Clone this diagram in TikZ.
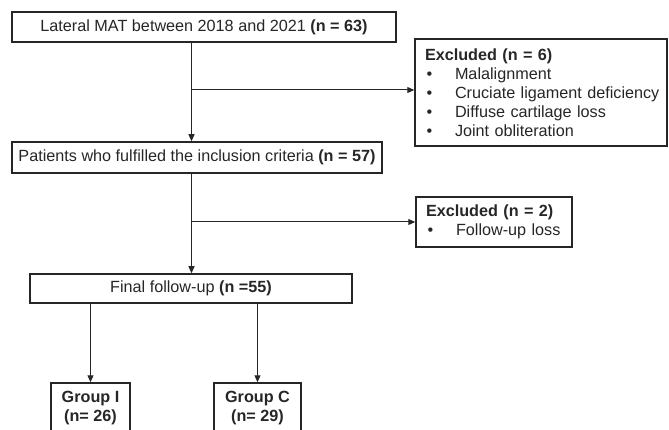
\documentclass[tikz,border=0pt]{standalone}
\usepackage{fontspec}
\setmainfont{Liberation Sans}
\usepackage{tikz}
\usetikzlibrary{arrows.meta, positioning, calc}

\definecolor{inkgray}{HTML}{262626}

\tikzset{
    flowbox/.style={draw=inkgray, line width=1.5pt, text=inkgray, inner sep=0pt,
        font=\fontsize{16.2}{19}\selectfont},
    listbox/.style={flowbox, align=left, inner xsep=10pt},
    groupbox/.style={flowbox, align=center, minimum height=50pt},
    link/.style={->, draw=inkgray, line width=1pt},
}
\newcommand{\listitem}[1]{\mbox{\makebox[30pt][l]{\hspace{1.5pt}\textbullet}#1}}

\begin{document}
\begin{tikzpicture}[>={Triangle[length=7pt,width=6pt]}, x=1pt, y=-1pt]
    \useasboundingbox (0,0) rectangle (669,430);

    % Main boxes
    \node[flowbox, minimum width=384pt, minimum height=30pt] (total) at (204,27)
        {Lateral MAT between 2018 and 2021 \textbf{(n = 63)}};
    \node[flowbox, minimum width=370pt, minimum height=31pt] (included) at (197,157.5)
        {Patients who fulfilled the inclusion criteria \textbf{(n = 57)}};
    \node[flowbox, minimum width=322pt, minimum height=29pt] (final) at (191,288.5)
        {Final follow-up \textbf{(n =55)}};

    % Exclusion boxes
    \node[listbox, text width=232pt, minimum height=107pt] (exclA) at (541,92.5)
        {\textbf{Excluded (n = 6)}\\
         \listitem{Malalignment}\\
         \listitem{Cruciate ligament deficiency}\\
         \listitem{Diffuse cartilage loss}\\
         \listitem{Joint obliteration}};
    \node[listbox, text width=136pt, minimum height=50pt] (exclB) at (494,222)
        {\textbf{Excluded (n = 2)}\\
         \listitem{Follow-up loss}};

    % Groups
    \node[groupbox, minimum width=79pt] (grpI) at (90.5,408)
        {\textbf{Group I}\\\textbf{(n= 26)}};
    \node[groupbox, minimum width=87pt] (grpC) at (257.5,408)
        {\textbf{Group C}\\\textbf{(n= 29)}};

    % Split points on the spine
    \coordinate (splitA) at (191.5,90);
    \coordinate (splitB) at (191.5,222);

    % Connectors
    \draw[link] (total.south -| splitA) -- (included.north -| splitA);
    \draw[link] (splitA) -- (splitA -| exclA.west);
    \draw[link] (included.south -| splitB) -- (final.north -| splitB);
    \draw[link] (splitB) -- (splitB -| exclB.west);
    \foreach \g in {grpI, grpC}{
        \draw[link] (final.south -| \g) -- (\g.north);
    }

\end{tikzpicture}
\end{document}
